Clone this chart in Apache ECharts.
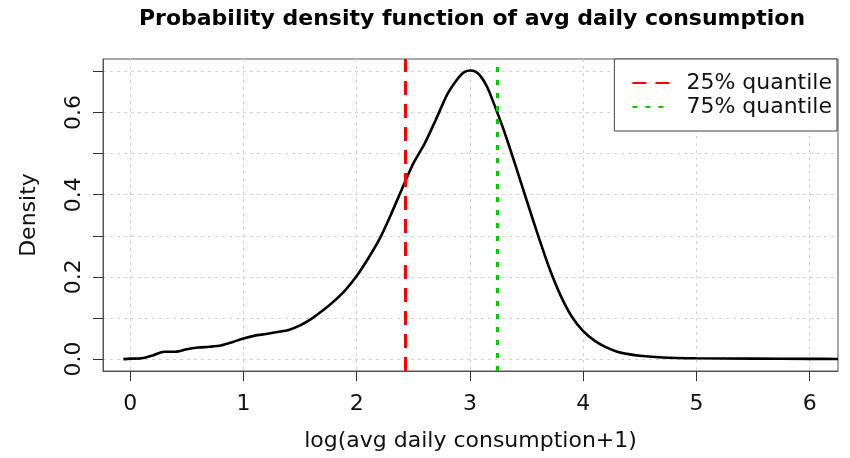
<!DOCTYPE html>
<html>
<head>
<meta charset="utf-8">
<script src="https://cdn.jsdelivr.net/npm/echarts@6/dist/echarts.min.js"></script>
<style>html,body{margin:0;padding:0;background:#fff}#c{width:850px;height:458px}</style>
</head>
<body>
<div id="c"></div>
<script>
// ---- data ----
var densityX = [-0.06, 0.0, 0.1, 0.2, 0.3, 0.4, 0.5, 0.6, 0.7, 0.8, 0.9, 1.0, 1.1, 1.2, 1.3, 1.4, 1.5, 1.6, 1.7, 1.8, 1.9,
  2.0, 2.1, 2.2, 2.3, 2.4, 2.5, 2.6, 2.7, 2.8, 2.9, 2.95, 3.0, 3.05, 3.1, 3.15, 3.2, 3.3, 3.4, 3.5, 3.6, 3.7, 3.8, 3.9,
  4.0, 4.1, 4.2, 4.3, 4.4, 4.5, 4.7, 5.0, 5.5, 6.0, 6.25];
var densityY = [0.000, 0.001, 0.002, 0.009, 0.018, 0.018, 0.024, 0.028, 0.030, 0.033, 0.041, 0.050, 0.057, 0.061, 0.066, 0.071, 0.082, 0.098, 0.118, 0.141, 0.168,
  0.202, 0.244, 0.291, 0.350, 0.414, 0.476, 0.524, 0.583, 0.644, 0.685, 0.698, 0.702, 0.699, 0.686, 0.663, 0.630, 0.556, 0.473, 0.387, 0.302, 0.222, 0.155, 0.103,
  0.068, 0.045, 0.029, 0.018, 0.012, 0.008, 0.004, 0.002, 0.001, 0.0005, 0.0003];
var quantile25 = 2.43;
var quantile75 = 3.24;
var xTicks = [0, 1, 2, 3, 4, 5, 6];
var yTicks = [0, 0.1, 0.2, 0.3, 0.4, 0.5, 0.6, 0.7];
var yLabels = [0, 0.2, 0.4, 0.6];
var legendNames = ['25% quantile', '75% quantile'];
var titleText = 'Probability density function of avg daily consumption';
var xName = 'log(avg daily consumption+1)';
var yName = 'Density';

var FONT = 'DejaVu Sans';
var chart = echarts.init(document.getElementById('c'), null, {renderer: 'canvas'});
var pts = densityX.map(function (x, i) { return [x, densityY[i]]; });

chart.setOption({
  animation: false,
  backgroundColor: '#fff',
  title: {
    text: titleText, left: 467, top: 3, textAlign: 'center',
    textStyle: {fontFamily: FONT, fontWeight: 'bold', fontSize: 22, color: '#000'}
  },
  grid: {left: 103, top: 59, right: 12, bottom: 87, show: true, borderColor: '#555', borderWidth: 1, backgroundColor: 'transparent'},
  legend: {
    orient: 'vertical', right: 13, top: 59, itemWidth: 38, itemHeight: 22, itemGap: 2,
    padding: [13, 5, 13, 17], borderColor: '#444', borderWidth: 1, backgroundColor: '#fff',
    data: legendNames,
    itemStyle: {opacity: 0},
    textStyle: {fontFamily: FONT, fontSize: 22, color: '#111', padding: [0, 0, 0, 11]}
  },
  xAxis: {
    type: 'value', min: -0.24, max: 6.25,
    name: xName, nameLocation: 'middle', nameGap: 59,
    nameTextStyle: {fontFamily: FONT, fontSize: 22, color: '#111'},
    axisLine: {show: true, onZero: false, lineStyle: {color: '#555', width: 1}},
    axisTick: {show: true, inside: false, length: 10, customValues: xTicks, lineStyle: {color: '#333', width: 1}},
    axisLabel: {customValues: xTicks, margin: 22, fontFamily: FONT, fontSize: 22, color: '#111'},
    splitLine: {show: true, lineStyle: {color: '#d3d3d3', type: [3, 4], width: 1}}
  },
  yAxis: {
    type: 'value', min: -0.029, max: 0.73,
    name: yName, nameLocation: 'middle', nameGap: 63,
    nameTextStyle: {fontFamily: FONT, fontSize: 22, color: '#111'},
    axisLine: {show: true, onZero: false, lineStyle: {color: '#555', width: 1}},
    axisTick: {show: true, inside: false, length: 10, customValues: yTicks, lineStyle: {color: '#333', width: 1}},
    axisLabel: {customValues: yLabels, rotate: 90, margin: 18, fontFamily: FONT, fontSize: 22, color: '#111',
      formatter: function (v) { return Number(v).toFixed(1); }},
    splitLine: {show: true, lineStyle: {color: '#d3d3d3', type: [3, 4], width: 1}}
  },
  series: [
    {
      name: 'density', type: 'line', data: pts, symbol: 'none', smooth: 0.25,
      lineStyle: {color: '#000', width: 2.6}, itemStyle: {color: '#000'}, z: 3
    },
    {
      name: legendNames[0], type: 'line', data: [], symbol: 'none', color: '#ff0000',
      lineStyle: {color: '#ff0000', width: 3, type: [14, 9]},
      markLine: {silent: true, symbol: 'none', label: {show: false},
        lineStyle: {color: '#ff0000', width: 3, type: [14, 9]},
        data: [{xAxis: quantile25}]}
    },
    {
      name: legendNames[1], type: 'line', data: [], symbol: 'none', color: '#00cc00',
      lineStyle: {color: '#00cc00', width: 3, type: [5, 8]},
      markLine: {silent: true, symbol: 'none', label: {show: false},
        lineStyle: {color: '#00cc00', width: 3, type: [5, 8]},
        data: [{xAxis: quantile75}]}
    }
  ]
});
</script>
</body>
</html>
